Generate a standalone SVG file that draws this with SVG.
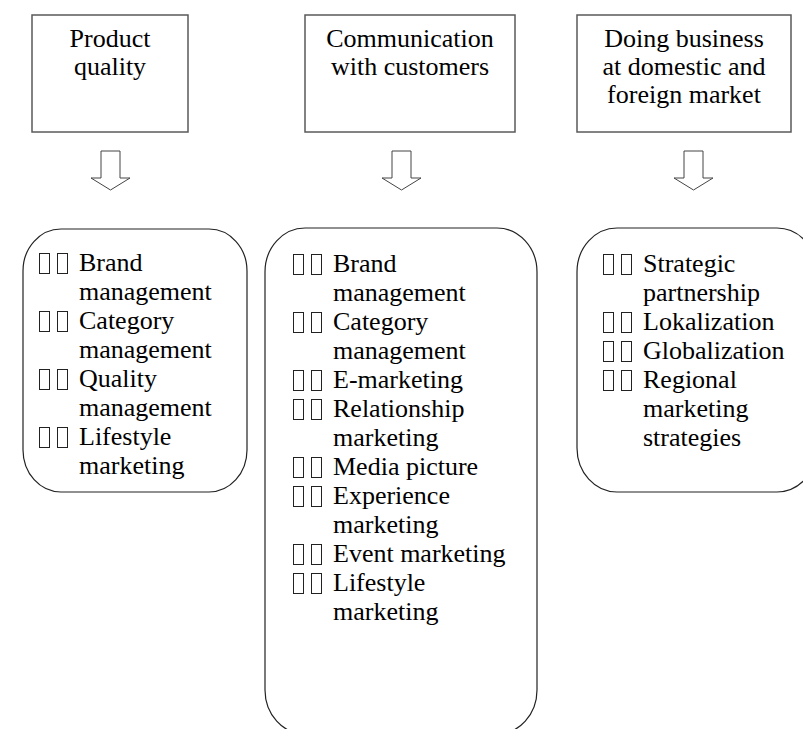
<svg xmlns="http://www.w3.org/2000/svg" width="803" height="729" viewBox="0 0 803 729">
<style>
.hbox{fill:#fff;stroke:#5a5a5a;stroke-width:1.5}
.rbox{fill:#fff;stroke:#222;stroke-width:1.2}
.arrow{fill:#fff;stroke:#444;stroke-width:1}
.tofu{fill:none;stroke:#222;stroke-width:1}
</style>
<defs>
<g id="tf"><rect class="tofu" x="0.5" y="-17.5" width="10" height="20"/><rect class="tofu" x="18.5" y="-17.5" width="10" height="20"/></g>
</defs>
<rect width="803" height="729" fill="#fff"/>
<g id="head1" font-family="Liberation Serif" font-size="26" text-anchor="middle"><rect class="hbox" x="32" y="15" width="156" height="117"/>
<text x="110" y="47">Product</text><text x="110" y="75">quality</text></g>
<g id="head2" font-family="Liberation Serif" font-size="26" text-anchor="middle"><rect class="hbox" x="305" y="15" width="210" height="117"/>
<text x="410" y="47">Communication</text><text x="410" y="75">with customers</text></g>
<g id="head3" font-family="Liberation Serif" font-size="26" text-anchor="middle"><rect class="hbox" x="577" y="15" width="214" height="117"/>
<text x="684" y="47">Doing business</text><text x="684" y="75">at domestic and</text><text x="684" y="103">foreign market</text></g>
<g id="connectors">
<path class="arrow" d="M101,151 H120 V178 H130 L110.5,190 L91,178 H101 Z"/>
<path class="arrow" d="M392,151 H411 V178 H421 L401.5,190 L382,178 H392 Z"/>
<path class="arrow" d="M684,151 H703 V178 H713 L693.5,190 L674,178 H684 Z"/>
</g>
<g id="list1" font-family="Liberation Serif" font-size="26"><rect class="rbox" x="23" y="229" width="224" height="263" rx="38" ry="42"/>
<use href="#tf" x="39" y="271"/><text x="79" y="271">Brand</text>
<text x="79" y="300">management</text>
<use href="#tf" x="39" y="329"/><text x="79" y="329">Category</text>
<text x="79" y="358">management</text>
<use href="#tf" x="39" y="387"/><text x="79" y="387">Quality</text>
<text x="79" y="416">management</text>
<use href="#tf" x="39" y="445"/><text x="79" y="445">Lifestyle</text>
<text x="79" y="474">marketing</text></g>
<g id="list2" font-family="Liberation Serif" font-size="26"><rect class="rbox" x="265" y="228" width="272" height="506" rx="40" ry="44"/>
<use href="#tf" x="293" y="272"/><text x="333" y="272">Brand</text>
<text x="333" y="301">management</text>
<use href="#tf" x="293" y="330"/><text x="333" y="330">Category</text>
<text x="333" y="359">management</text>
<use href="#tf" x="293" y="388"/><text x="333" y="388">E-marketing</text>
<use href="#tf" x="293" y="417"/><text x="333" y="417">Relationship</text>
<text x="333" y="446">marketing</text>
<use href="#tf" x="293" y="475"/><text x="333" y="475">Media picture</text>
<use href="#tf" x="293" y="504"/><text x="333" y="504">Experience</text>
<text x="333" y="533">marketing</text>
<use href="#tf" x="293" y="562"/><text x="333" y="562">Event marketing</text>
<use href="#tf" x="293" y="591"/><text x="333" y="591">Lifestyle</text>
<text x="333" y="620">marketing</text></g>
<g id="list3" font-family="Liberation Serif" font-size="26"><rect class="rbox" x="577" y="228" width="240" height="264" rx="40" ry="44"/>
<use href="#tf" x="603" y="272"/><text x="643" y="272">Strategic</text>
<text x="643" y="301">partnership</text>
<use href="#tf" x="603" y="330"/><text x="643" y="330">Lokalization</text>
<use href="#tf" x="603" y="359"/><text x="643" y="359">Globalization</text>
<use href="#tf" x="603" y="388"/><text x="643" y="388">Regional</text>
<text x="643" y="417">marketing</text>
<text x="643" y="446">strategies</text></g>
</svg>
